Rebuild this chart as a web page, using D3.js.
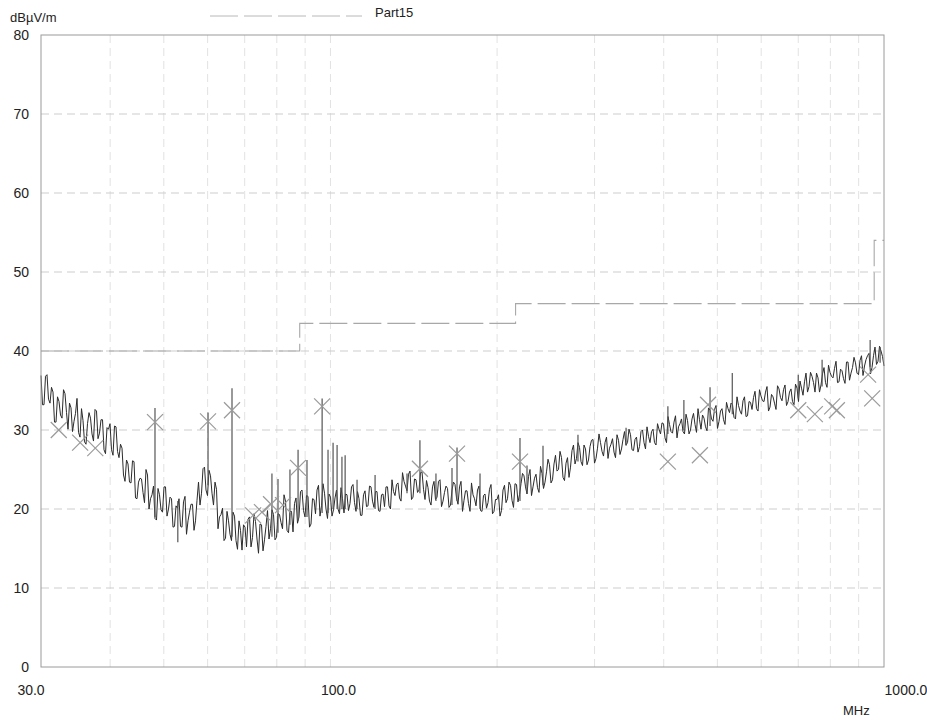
<!DOCTYPE html>
<html><head><meta charset="utf-8">
<script src="https://cdn.jsdelivr.net/npm/d3@7"></script>
<style>
body{margin:0;background:#fff}
svg{display:block}
text{font-family:"Liberation Sans",Arial,sans-serif;fill:#222}
</style></head><body>
<script>
// Receiver sweep (log-spaced points from start to stop)
const sweepStartMHz = 30, sweepStopMHz = 1000;
// readings on the sweep points
const traceLevels = [
36.9,33.2,37.0,33.4,34.8,31.0,33.6,31.5,34.6,30.1,32.8,31.1,34.0,29.1,31.2,28.2,32.2,29.5,32.6,28.9,31.3,27.5,30.3,
30.8,26.8,30.4,26.5,27.7,23.5,25.7,23.3,26.0,21.3,23.9,22.1,25.0,20.0,21.8,18.8,22.6,19.9,22.8,19.1,21.5,17.7,20.4,
21.3,17.7,21.6,18.5,20.6,17.3,21.1,20.5,25.1,22.4,24.9,22.0,23.4,17.5,19.3,16.0,19.7,16.8,19.6,16.0,18.5,14.8,17.7,
18.7,15.2,19.4,16.2,18.1,14.7,17.8,16.2,19.9,16.1,19.4,18.3,21.8,17.3,19.7,17.1,21.4,19.0,22.4,19.0,21.6,18.1,21.2,
22.4,19.1,23.2,20.0,21.9,19.1,21.4,20.0,22.7,19.5,21.8,20.7,23.1,19.7,21.3,19.2,22.3,20.4,22.8,20.2,22.2,19.7,21.9,
22.8,20.4,23.7,21.7,23.3,21.0,23.5,22.3,24.8,21.5,23.7,22.4,24.7,21.2,22.7,20.5,23.5,21.5,23.7,21.0,22.9,20.2,22.4,
23.1,20.6,23.5,21.1,22.3,19.7,21.8,20.4,22.9,19.7,21.9,20.8,23.1,19.7,21.2,19.1,22.4,20.8,23.4,21.1,23.2,20.9,23.2,
24.2,21.9,25.0,22.8,24.4,22.1,24.5,23.4,26.3,23.3,25.7,24.8,27.3,24.0,25.8,24.0,27.4,25.7,28.4,26.0,28.1,25.6,27.9,
28.8,26.4,29.5,27.3,28.4,26.4,28.2,27.2,29.4,26.9,28.8,28.1,30.1,27.5,28.8,27.2,29.8,28.4,30.4,28.4,30.1,28.1,30.1,
30.9,29.0,31.7,29.8,31.0,29.0,30.8,29.8,32.0,29.5,31.4,30.7,32.7,30.1,31.5,29.9,32.5,31.1,33.1,31.1,32.7,30.7,32.7,
33.4,31.6,34.2,32.4,33.7,31.7,33.6,32.6,34.9,32.4,34.3,33.6,35.5,32.9,34.2,32.6,35.2,33.7,35.7,33.6,35.2,33.2,35.3,
36.2,34.4,37.2,35.5,36.8,34.8,36.6,35.7,37.9,35.4,37.3,36.6,38.7,36.1,37.5,35.9,38.6,37.2,39.2,37.2,38.8,36.9,38.9,
39.7,37.9,40.5,38.7,40.0,38.1
];
// readings half-way between sweep points
const traceLevelsMid = [
33.2,36.8,33.9,35.4,31.0,34.2,31.9,35.1,32.2,33.4,29.8,32.1,29.7,32.7,28.5,30.8,31.5,
28.6,32.4,29.6,31.3,27.0,30.1,27.5,30.5,27.3,28.2,24.3,26.2,23.4,26.1,21.4,23.4,23.8,
20.8,24.3,21.3,22.9,18.6,21.8,19.6,22.8,20.0,21.3,17.8,20.1,17.8,20.9,16.8,19.6,20.6,
18.5,23.4,22.0,25.3,21.7,24.2,20.5,22.5,19.0,20.1,16.3,18.5,16.0,19.1,14.9,17.3,18.0,
15.2,19.0,16.4,18.4,14.4,18.0,16.1,19.8,17.5,19.3,16.4,19.3,17.5,21.0,17.0,19.7,20.7,
18.2,22.2,19.8,21.7,17.7,21.3,19.4,23.0,20.4,22.0,18.8,21.5,19.9,22.4,19.4,21.3,21.9,
19.8,22.8,20.8,22.2,19.2,21.8,20.3,22.9,21.0,22.2,19.8,21.8,20.3,22.8,20.0,22.2,23.1,
21.4,24.6,22.9,24.4,21.2,23.8,22.1,24.6,22.5,23.6,21.0,22.8,21.2,23.5,20.3,22.1,22.6,
20.5,23.4,21.4,22.8,19.7,22.3,20.7,23.3,21.3,22.4,19.8,21.7,20.1,22.5,19.4,21.2,21.8,
19.8,23.0,21.3,23.0,20.2,23.1,21.8,24.5,22.8,24.1,21.7,23.9,22.7,25.4,22.6,24.7,25.6,
23.7,26.8,25.0,26.5,23.6,26.5,25.3,28.1,26.4,27.8,25.5,27.6,26.2,28.7,25.8,27.7,28.4,
26.7,29.1,27.7,28.9,26.5,28.7,27.6,29.8,28.4,29.4,27.4,29.1,27.9,30.0,27.6,29.2,29.8,
28.4,30.8,29.5,30.8,28.4,30.7,29.6,31.8,30.4,31.4,29.5,31.2,30.0,32.1,29.7,31.3,31.9,
30.4,32.8,31.4,32.6,30.2,32.4,31.3,33.5,32.2,33.2,31.4,33.1,32.0,34.2,31.8,33.5,34.1,
32.7,35.1,33.7,34.8,32.4,34.5,33.4,35.6,34.1,35.1,33.1,34.8,33.6,35.8,33.6,35.3,36.1,
34.8,37.3,36.0,37.2,34.8,37.1,36.0,38.2,36.8,37.8,36.0,37.7,36.5,38.6,36.3,37.9,38.5,
37.0,39.4,38.1,39.4,37.1,39.4,38.3,40.6,39.3
];
// Narrow-band spikes: frequency, lower end, upper end
const spikeFreqs = [48.2,53.0,60.1,66.4,78.4,80.4,84.5,87.4,90.7,96.6,99.0,101.1,102.8,104.9,106.3,111.7,120.4,137.5,145.1,155.1,165.8,169.3,186.3,220,226.5,242.1,280,342,407,435,485,532,700,773,944,984];
const spikeLows  = [19,15.8,23,16.5,16.5,17,18,18.5,19,19.5,19.5,20,20,20,20,20,20,22,22,21,20.5,21,20,21,22,23,26,28,29.5,30,30.5,32,34,35.5,38,38.5];
const spikeHighs = [32.8,21,32.2,35.3,24.5,23.8,25,27.5,26.2,34.0,27.5,28.4,28.1,26.6,26.8,23.7,24.3,24.5,28.7,24.5,25.2,27.8,24.5,29,25.5,28,29.4,30.3,33,33.8,35.4,37.2,37,38.9,41.4,40.5];
// Final measurement markers (x)
const markerFreqs  = [32.3,35.3,37.6,48.2,60.1,66.4,72.5,75.2,78.1,82.1,87.4,96.6,145.1,169.3,220,407,465,481,700,750,806,822,936,952];
const markerLevels = [30,28.4,27.7,31,31.1,32.5,19.2,19.6,20.6,20.5,25.2,33,25.1,27,26,26,26.8,33.2,32.5,32,33,32.5,37,34];
// Limit line (Part15)
const limitFreqs  = [30,88,216,960,1000];
const limitLevels = [40,43.5,46,54,54];
// Axes
const yTickValues = [0,10,20,30,40,50,60,70,80];
const xTickValues = [30,100,1000];
const xTickLabels = ["30.0","100.0","1000.0"];
const gridFreqs = [40,50,60,70,80,90,100,200,300,400,500,600,700,800,900];

const W = 927, H = 720;
const L = 41, R = 884, T = 35, B = 667;
const svg = d3.select("body").append("svg").attr("width", W).attr("height", H);
const x = d3.scaleLog().domain([sweepStartMHz, sweepStopMHz]).range([L, R]);
const y = d3.scaleLinear().domain([0, 80]).range([B, T]);

// grid
svg.append("g").selectAll("line").data(gridFreqs).join("line")
  .attr("x1", d => x(d)).attr("x2", d => x(d)).attr("y1", T).attr("y2", B)
  .attr("stroke", "#e2e2e2").attr("stroke-width", 1).attr("stroke-dasharray", "8,5");
svg.append("g").selectAll("line").data(yTickValues.filter(v => v > 0 && v < 80)).join("line")
  .attr("x1", L).attr("x2", R).attr("y1", d => y(d)).attr("y2", d => y(d))
  .attr("stroke", "#cdcdcd").attr("stroke-width", 1).attr("stroke-dasharray", "8,5");

// limit line
const limitData = limitFreqs.map((f, i) => [f, limitLevels[i]]);
svg.append("path").datum(limitData)
  .attr("d", d3.line().x(d => x(d[0])).y(d => y(d[1])).curve(d3.curveStepAfter))
  .attr("fill", "none").attr("stroke", "#a8a8a8").attr("stroke-width", 1.1).attr("stroke-dasharray", "28,6");

// trace: sweep points interleaved with the half-way readings
const n = traceLevels.length;
const ratio = sweepStopMHz / sweepStartMHz;
const traceData = [];
traceLevels.forEach((v, i) => {
  traceData.push([sweepStartMHz * Math.pow(ratio, i / (n - 1)), v]);
  if (i < traceLevelsMid.length)
    traceData.push([sweepStartMHz * Math.pow(ratio, (i + 0.5) / (n - 1)), traceLevelsMid[i]]);
});
svg.append("path").datum(traceData)
  .attr("d", d3.line().x(d => x(d[0])).y(d => y(d[1])))
  .attr("fill", "none").attr("stroke", "#2b2b2b").attr("stroke-width", 1).attr("stroke-linejoin", "miter");

// spikes
svg.append("g").selectAll("line").data(spikeFreqs).join("line")
  .attr("x1", d => x(d)).attr("x2", d => x(d))
  .attr("y1", (d, i) => y(spikeLows[i])).attr("y2", (d, i) => y(spikeHighs[i]))
  .attr("stroke", "#555").attr("stroke-width", 1.2);

// markers
const ms = 8;
const mg = svg.append("g").selectAll("g").data(markerFreqs).join("g")
  .attr("transform", (d, i) => `translate(${x(d)},${y(markerLevels[i])})`);
mg.append("line").attr("x1", -ms).attr("y1", -ms).attr("x2", ms).attr("y2", ms).attr("stroke", "#9a9a9a").attr("stroke-width", 1.2);
mg.append("line").attr("x1", -ms).attr("y1", ms).attr("x2", ms).attr("y2", -ms).attr("stroke", "#9a9a9a").attr("stroke-width", 1.2);

// frame
svg.append("rect").attr("x", L).attr("y", T).attr("width", R - L).attr("height", B - T)
  .attr("fill", "none").attr("stroke", "#9a9a9a").attr("stroke-width", 1);

// y tick labels
svg.append("g").selectAll("text").data(yTickValues).join("text")
  .attr("x", 29).attr("y", d => y(d)).attr("dy", "0.36em").attr("text-anchor", "end")
  .style("font-size", "14px").text(d => d);
// x tick labels
const xLabelDx = [-10, 8, 22];
svg.append("g").selectAll("text").data(xTickValues).join("text")
  .attr("x", (d, i) => x(d) + xLabelDx[i]).attr("y", 695).attr("text-anchor", "middle")
  .style("font-size", "14px").text((d, i) => xTickLabels[i]);

svg.append("text").attr("x", 10).attr("y", 22).style("font-size", "13px").text("dBµV/m");
svg.append("text").attr("x", 843).attr("y", 715).style("font-size", "13px").text("MHz");

// legend
svg.append("line").attr("x1", 210).attr("x2", 362).attr("y1", 16).attr("y2", 16)
  .attr("stroke", "#b8b8b8").attr("stroke-width", 1).attr("stroke-dasharray", "28,6");
svg.append("text").attr("x", 375).attr("y", 17).style("font-size", "13px").text("Part15");
</script>
</body></html>
